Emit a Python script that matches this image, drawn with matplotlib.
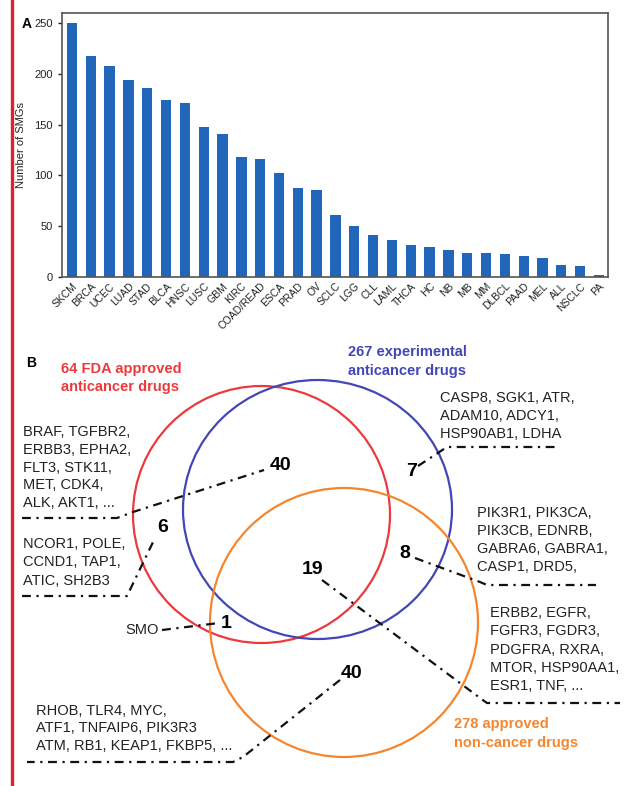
import matplotlib
matplotlib.use("Agg")
import matplotlib.pyplot as plt
from matplotlib.patches import Ellipse

plt.rcParams['font.family'] = ['Liberation Sans', 'DejaVu Sans']

# panel A: number of SMGs per cancer type
cancers = ["SKCM", "BRCA", "UCEC", "LUAD", "STAD", "BLCA", "HNSC", "LUSC", "GBM",
           "KIRC", "COAD/READ", "ESCA", "PRAD", "OV", "SCLC", "LGG", "CLL", "LAML",
           "THCA", "HC", "NB", "MB", "MM", "DLBCL", "PAAD", "MEL", "ALL", "NSCLC", "PA"]
smgs = [250, 218, 208, 194, 186, 174, 171, 148, 141, 118, 116, 102, 88, 86, 61,
        50, 41, 36, 32, 30, 27, 24, 24, 23, 21, 19, 12, 11, 2]
yticks = [0, 50, 100, 150, 200, 250]

# panel B: venn of drug target sets
set_titles = ["64 FDA approved\nanticancer drugs",
              "267 experimental\nanticancer drugs",
              "278 approved\nnon-cancer drugs"]
region_counts = {"fda_only": 40, "fda_exp": 6, "exp_only": 7, "exp_non": 8,
                 "all3": 19, "fda_non": 1, "non_only": 40}
genes_fda_only = ["BRAF, TGFBR2,", "ERBB3, EPHA2,", "FLT3, STK11,", "MET, CDK4,", "ALK, AKT1, ..."]
genes_fda_exp = ["NCOR1, POLE,", "CCND1, TAP1,", "ATIC, SH2B3"]
genes_exp_only = ["CASP8, SGK1, ATR,", "ADAM10, ADCY1,", "HSP90AB1, LDHA"]
genes_exp_non = ["PIK3R1, PIK3CA,", "PIK3CB, EDNRB,", "GABRA6, GABRA1,", "CASP1, DRD5,"]
genes_all3 = ["ERBB2, EGFR,", "FGFR3, FGDR3,", "PDGFRA, RXRA,", "MTOR, HSP90AA1,", "ESR1, TNF, ..."]
genes_fda_non = ["SMO"]
genes_non_only = ["RHOB, TLR4, MYC,", "ATF1, TNFAIP6, PIK3R3", "ATM, RB1, KEAP1, FKBP5, ..."]

W, H = 624, 786
fig = plt.figure(figsize=(W / 100, H / 100), dpi=100)

# overlay axes in pixel coordinates
ov = fig.add_axes([0, 0, 1, 1])
ov.set_xlim(0, W)
ov.set_ylim(H, 0)
ov.axis("off")

ov.plot([12, 12], [0, H], color="#e0202e", lw=2.4)

# ---- panel A
ax = fig.add_axes([62 / W, 1 - 277 / H, 546 / W, 264 / H])
x = list(range(len(cancers)))
ax.bar(x, smgs, width=0.55, color="#2166b8")
ax.set_xlim(-0.53, 28.48)
ax.set_ylim(0, 260)
ax.set_yticks(yticks)
ax.set_xticks(x)
ax.set_xticklabels(cancers, rotation=45, ha="right", rotation_mode="anchor", fontsize=7.5,
                   color="#222222")
ax.tick_params(axis="x", length=0, pad=3)
ax.tick_params(axis="y", length=3, labelsize=8, colors="#222222", width=1)
for s in ax.spines.values():
    s.set_color("#555555")
    s.set_linewidth(1.2)
ax.set_ylabel("Number of SMGs", fontsize=8, color="#222222", labelpad=6)
ov.text(22, 24, "A", fontsize=10, fontweight="bold", ha="left", va="center")

# ---- panel B
ov.text(26, 363, "B", fontsize=10, fontweight="bold", ha="left", va="center")

red, blue, orange = "#ec3a3c", "#4347b6", "#f5862e"
ov.add_patch(Ellipse((261.5, 514.5), 257, 257, fill=False, ec=red, lw=1.6))
ov.add_patch(Ellipse((317.5, 509.5), 269, 259, fill=False, ec=blue, lw=1.6))
ov.add_patch(Ellipse((344, 622.5), 268, 269, fill=False, ec=orange, lw=1.6))


def title(xp, yp, txt, col):
    for i, line in enumerate(txt.split("\n")):
        ov.text(xp, yp + i * 18.5, line, color=col, fontsize=10.5, fontweight="bold",
                ha="left", va="center")


title(61, 369, set_titles[0], red)
title(348, 352, set_titles[1], blue)
title(454, 724, set_titles[2], orange)


def genes(xp, yp, lines, dy=17.8):
    for i, line in enumerate(lines):
        ov.text(xp, yp + i * dy, line, fontsize=10.5, color="#222222", ha="left", va="center")


genes(23, 432, genes_fda_only)
genes(23, 544, genes_fda_exp, dy=18.5)
genes(440, 398, genes_exp_only)
genes(477, 513, genes_exp_non, dy=18)
genes(490, 613, genes_all3, dy=18.3)
genes(125, 630, genes_fda_non)
genes(36, 711, genes_non_only, dy=17.5)


def num(xp, yp, key):
    ov.text(xp, yp, str(region_counts[key]), fontsize=14, fontweight="bold",
            ha="center", va="center")


num(281, 466, "fda_only")
num(163, 527, "fda_exp")
num(412, 472, "exp_only")
num(405, 553, "exp_non")
num(313, 570, "all3")
num(226, 623, "fda_non")
num(352, 673, "non_only")

dd = dict(color="#111111", lw=1.6, dashes=(4, 2.5, 1, 2.5), solid_capstyle="butt",
          dash_capstyle="butt")
ov.plot([22, 117, 133, 264], [518, 518, 512, 470], **dd)
ov.plot([22, 127, 155], [596, 596, 538], **dd)
ov.plot([418, 447, 560], [466, 447, 447], **dd)
ov.plot([415, 480, 487, 596], [558, 582, 585, 585], **dd)
ov.plot([322, 480, 487, 620], [580, 698, 703, 703], **dd)
ov.plot([162, 219], [630, 623], **dd)
ov.plot([340, 243, 233, 27], [680, 757, 762, 762], **dd)

fig.savefig("out.png", dpi=100)
